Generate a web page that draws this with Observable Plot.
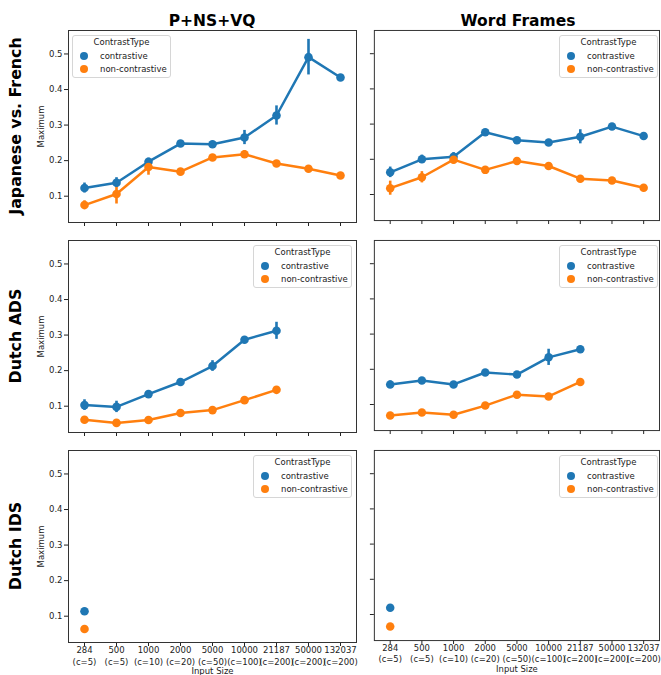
<!DOCTYPE html>
<html><head><meta charset="utf-8">
<script src="https://cdn.jsdelivr.net/npm/d3@7"></script>
<script src="https://cdn.jsdelivr.net/npm/@observablehq/plot@0.6"></script>
<style>
body{margin:0;background:#fff;font-family:"DejaVu Sans",sans-serif;}
#chart{position:relative;width:661px;height:675px;overflow:hidden;background:#fff;}
.panel{position:absolute;}
.coltitle{position:absolute;font-weight:bold;font-size:15.5px;line-height:1;transform:translateX(-50%);white-space:nowrap;color:#000;}
.rowlabel{position:absolute;font-weight:bold;font-size:15.8px;line-height:1;white-space:nowrap;transform:translate(-50%,-50%) rotate(-90deg);color:#000;}
.legend{position:absolute;width:99px;height:43px;border:1px solid #d6d6d6;border-radius:3px;background:rgba(255,255,255,0.8);box-sizing:border-box;font-size:8.5px;color:#222;line-height:1;}
.legend .ttl{position:absolute;left:0;right:0;top:2px;text-align:center;}
.legend .sw{position:absolute;width:8px;height:8px;border-radius:50%;left:7px;}
.legend .lb{position:absolute;left:27px;white-space:nowrap;}
</style>
</head><body>
<div id="chart"></div>
<script>
// ---- categories ----
const inputSizes = ["284","500","1000","2000","5000","10000","21187","50000","132037"];
const contextCounts = ["(c=5)","(c=5)","(c=10)","(c=20)","(c=50)","(c=100)","(c=200)","(c=200)","(c=200)"];
const models = ["P+NS+VQ","Word Frames"];
const corpora = ["Japanese vs. French","Dutch ADS","Dutch IDS"];
const contrastTypes = ["contrastive","non-contrastive"];
const contrastColors = ["#1f77b4","#ff7f0e"];
const yTicks = [0.1,0.2,0.3,0.4,0.5];
const yLabel = "Maximum";
const xLabel = "Input Size";
const legendTitle = "ContrastType";

// ---- Japanese vs. French, P+NS+VQ ----
const jfPnsContrastive     = [0.123,0.138,0.197,0.248,0.246,0.265,0.327,0.491,0.434];
const jfPnsContrastiveErr  = [0.014,0.014,0.010,0.004,0.003,0.020,0.027,0.050,0];
const jfPnsNonContrastive    = [0.075,0.106,0.182,0.169,0.209,0.218,0.192,0.177,0.158];
const jfPnsNonContrastiveErr = [0.012,0.028,0.023,0.004,0.005,0.010,0.004,0.004,0.003];
// ---- Japanese vs. French, Word Frames ----
const jfWfContrastive     = [0.163,0.200,0.207,0.277,0.254,0.248,0.264,0.293,0.266];
const jfWfContrastiveErr  = [0.015,0.012,0.012,0.005,0.004,0.004,0.020,0.004,0.003];
const jfWfNonContrastive    = [0.118,0.149,0.199,0.170,0.195,0.181,0.145,0.140,0.119];
const jfWfNonContrastiveErr = [0.020,0.016,0.012,0.004,0.004,0.004,0.005,0.004,0.003];
// ---- Dutch ADS, P+NS+VQ ----
const adsPnsContrastive     = [0.103,0.098,0.134,0.168,0.213,0.287,0.312,null,null];
const adsPnsContrastiveErr  = [0.015,0.016,0.005,0.006,0.015,0.005,0.024,null,null];
const adsPnsNonContrastive    = [0.062,0.053,0.061,0.081,0.089,0.117,0.146,null,null];
const adsPnsNonContrastiveErr = [0.004,0.004,0.004,0.004,0.004,0.004,0.004,null,null];
// ---- Dutch ADS, Word Frames ----
const adsWfContrastive     = [0.157,0.168,0.157,0.191,0.185,0.234,0.257,null,null];
const adsWfContrastiveErr  = [0.010,0.004,0.005,0.004,0.004,0.023,0.004,null,null];
const adsWfNonContrastive    = [0.069,0.077,0.071,0.097,0.128,0.123,0.164,null,null];
const adsWfNonContrastiveErr = [0.003,0.003,0.003,0.004,0.004,0.003,0.004,null,null];
// ---- Dutch IDS, P+NS+VQ ----
const idsPnsContrastive     = [0.114,null,null,null,null,null,null,null,null];
const idsPnsNonContrastive  = [0.064,null,null,null,null,null,null,null,null];
// ---- Dutch IDS, Word Frames ----
const idsWfContrastive      = [0.119,null,null,null,null,null,null,null,null];
const idsWfNonContrastive   = [0.066,null,null,null,null,null,null,null,null];
const noErr = [0,0,0,0,0,0,0,0,0];

const panels = [
  {row:0,col:0,c:jfPnsContrastive,ce:jfPnsContrastiveErr,n:jfPnsNonContrastive,ne:jfPnsNonContrastiveErr,legend:"left"},
  {row:0,col:1,c:jfWfContrastive,ce:jfWfContrastiveErr,n:jfWfNonContrastive,ne:jfWfNonContrastiveErr,legend:"right"},
  {row:1,col:0,c:adsPnsContrastive,ce:adsPnsContrastiveErr,n:adsPnsNonContrastive,ne:adsPnsNonContrastiveErr,legend:"right"},
  {row:1,col:1,c:adsWfContrastive,ce:adsWfContrastiveErr,n:adsWfNonContrastive,ne:adsWfNonContrastiveErr,legend:"right"},
  {row:2,col:0,c:idsPnsContrastive,ce:noErr,n:idsPnsNonContrastive,ne:noErr,legend:"right"},
  {row:2,col:1,c:idsWfContrastive,ce:noErr,n:idsWfNonContrastive,ne:noErr,legend:"right"}
];

// layout
const frameW = 288, frameH = 192;
const colX = [68, 374];
const rowY = [30, 239.5, 449.5];
const yDomain = [0.026, 0.566];

const chart = document.getElementById("chart");

function addEl(tag, cls, text, style) {
  const el = document.createElement(tag);
  if (cls) el.className = cls;
  if (text != null) el.textContent = text;
  Object.assign(el.style, style || {});
  chart.appendChild(el);
  return el;
}

for (const p of panels) {
  const data = [];
  inputSizes.forEach((s, i) => {
    data.push({size: s, type: contrastTypes[0], value: p.c[i], err: p.ce[i]});
    data.push({size: s, type: contrastTypes[1], value: p.n[i], err: p.ne[i]});
  });
  const pts = data.filter(d => d.value != null);
  const errs = pts.filter(d => d.err > 0);
  const isLeft = p.col === 0, isBottom = p.row === 2;
  const mL = isLeft ? 68 : 14, mR = 2, mT = 3, mB = isBottom ? 40 : 8;
  const xLabelMarks = isBottom ? [
    Plot.text(inputSizes, {x: d => d, text: d => d, frameAnchor: "bottom", dy: 10.5, fontSize: 8.5, fill: "#222"}),
    Plot.text(inputSizes, {x: d => d, text: (d, i) => contextCounts[i], frameAnchor: "bottom", dy: 22, fontSize: 8.5, fill: "#222"}),
    Plot.text([xLabel], {text: d => d, frameAnchor: "bottom", dy: 31.5, fontSize: 8.5, fill: "#222"})
  ] : [];
  const plot = Plot.plot({
    width: mL + frameW + mR,
    height: mT + frameH + mB,
    marginLeft: mL, marginRight: mR, marginTop: mT, marginBottom: mB,
    style: {fontFamily: "DejaVu Sans", fontSize: "8.3px", color: "#222", background: "transparent", overflow: "visible"},
    x: {type: "point", domain: inputSizes, padding: 0.5},
    y: {domain: yDomain},
    color: {domain: contrastTypes, range: contrastColors},
    marks: [
      Plot.axisY({
        ticks: yTicks, tickSize: 4, tickPadding: 2,
        tickFormat: isLeft ? (d => d.toFixed(1)) : (() => ""),
        label: isLeft ? yLabel : null, labelAnchor: "center", labelOffset: 31, labelArrow: "none",
        fontSize: 8.5
      }),
      Plot.axisX({tickSize: 4, tickFormat: () => "", label: null}),
      ...xLabelMarks,
      Plot.ruleX(errs, {x: "size", y1: d => d.value - d.err, y2: d => d.value + d.err, stroke: "type", strokeWidth: 2.6}),
      Plot.line(data, {x: "size", y: "value", stroke: "type", strokeWidth: 2.5}),
      Plot.dot(pts, {x: "size", y: "value", fill: "type", r: 4.3}),
      Plot.frame({stroke: "#333", strokeWidth: 1})
    ]
  });
  const wrap = addEl("div", "panel", null, {left: (colX[p.col] - mL) + "px", top: (rowY[p.row] - mT) + "px"});
  wrap.appendChild(plot);

  // legend
  const lx = p.legend === "left" ? colX[p.col] + 4 : colX[p.col] + frameW - 4 - 99;
  const ly = rowY[p.row] + 5;
  const lg = addEl("div", "legend", null, {left: lx + "px", top: ly + "px"});
  const t = document.createElement("div"); t.className = "ttl"; t.textContent = legendTitle; lg.appendChild(t);
  contrastTypes.forEach((ct, i) => {
    const sw = document.createElement("div"); sw.className = "sw";
    sw.style.background = contrastColors[i]; sw.style.top = (16 + i * 13) + "px";
    lg.appendChild(sw);
    const lb = document.createElement("div"); lb.className = "lb";
    lb.textContent = ct; lb.style.top = (16 + i * 13) + "px";
    lg.appendChild(lb);
  });
}

// column titles
models.forEach((m, i) => addEl("div", "coltitle", m, {left: (colX[i] + frameW / 2) + "px", top: "13.6px"}));
// row labels
corpora.forEach((c, i) => addEl("div", "rowlabel", c, {left: "16px", top: (rowY[i] + frameH / 2) + "px"}));
</script>
</body></html>
